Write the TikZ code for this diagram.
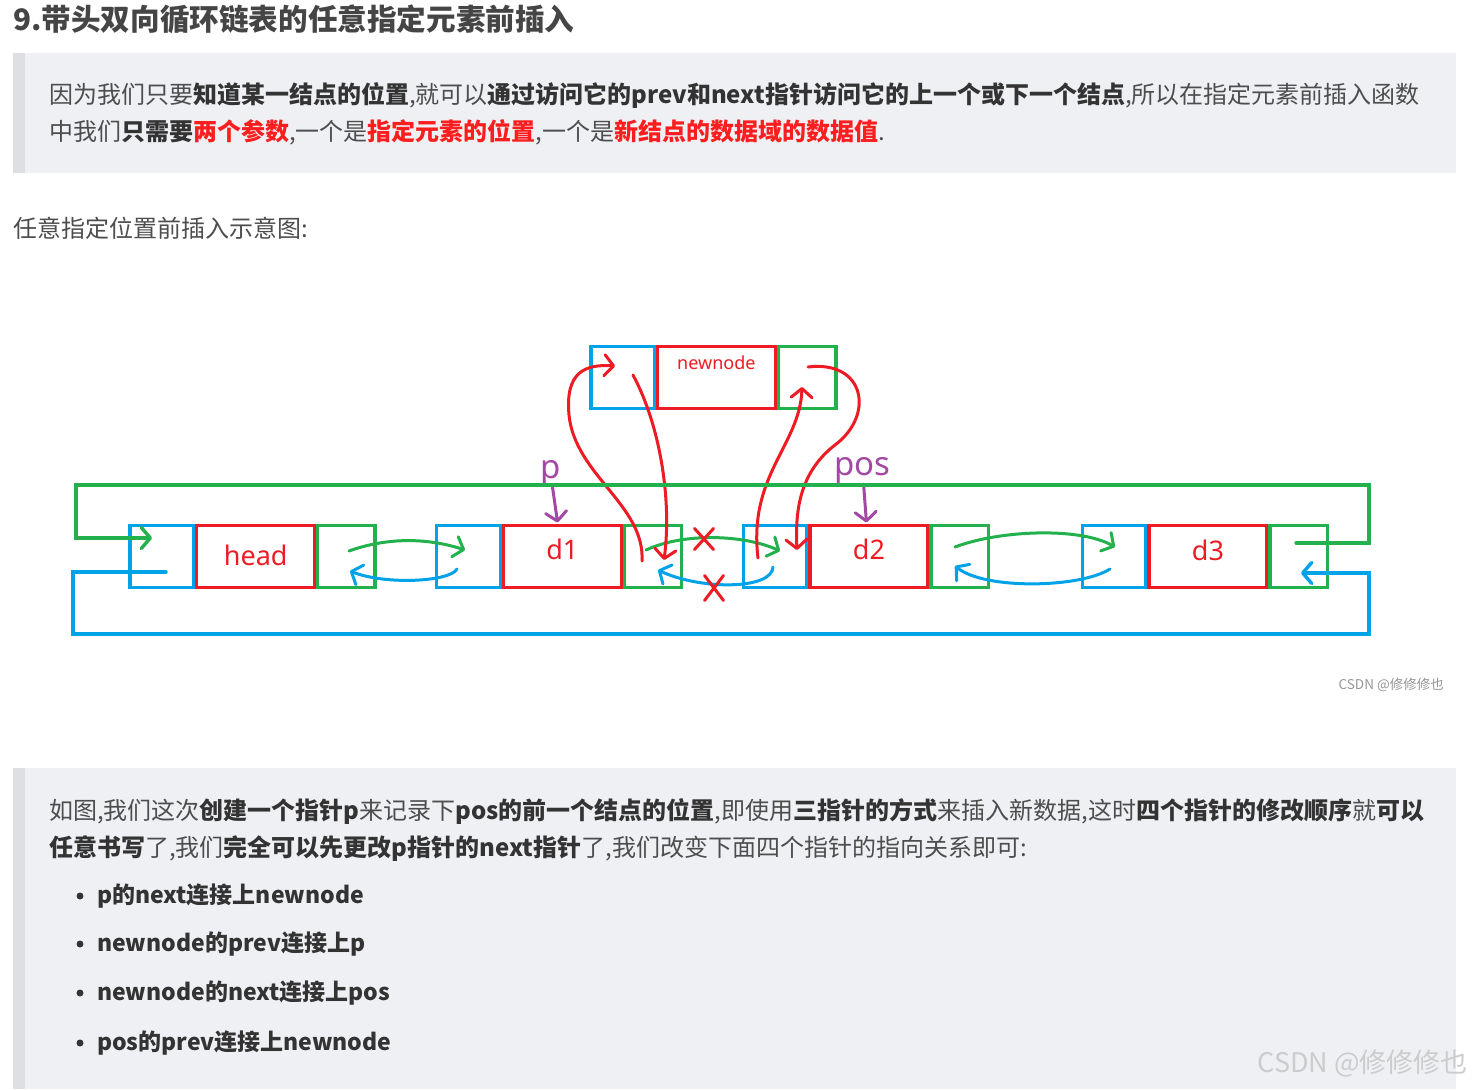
\documentclass[tikz,border=0pt]{standalone}
\usepackage{fontspec}
\setmainfont{Noto Sans CJK SC}
\newfontfamily\lblfont{Noto Sans}
\usetikzlibrary{arrows.meta,shapes.misc}

\definecolor{pblue}{RGB}{0,162,232}
\definecolor{pred}{RGB}{237,28,36}
\definecolor{pgreen}{RGB}{34,177,76}
\definecolor{ppurple}{RGB}{163,73,164}
\definecolor{txtgray}{RGB}{77,77,77}
\definecolor{txtdark}{RGB}{51,51,51}
\definecolor{hired}{RGB}{252,30,30}
\definecolor{quotebg}{RGB}{238,240,244}
\definecolor{quotebar}{RGB}{221,223,228}
\definecolor{wmgray}{RGB}{150,150,150}

\newcommand{\bodyfnt}{\fontsize{24}{28}\selectfont}
\newcommand{\kw}[1]{{\bfseries\color{txtdark}#1}}
\newcommand{\kwr}[1]{{\bfseries\color{hired}#1}}

\begin{document}
\begin{tikzpicture}[x=1pt,y=-1pt,
  box/.style={draw, line width=3.2pt, minimum height=62pt, inner sep=0pt, outer sep=0pt},
  prevbox/.style={box, draw=pblue, minimum width=63.5pt},
  databox/.style={box, draw=pred, minimum width=118pt, text=pred, text depth=0pt, font=\lblfont\fontsize{27}{30}\selectfont},
  nextbox/.style={box, draw=pgreen, minimum width=57.3pt},
  pen/.style={line width=3pt, line cap=round, line join=round, -{Straight Barb[length=9pt,width=21pt,round]}},
  gpen/.style={pen, draw=pgreen},
  bpen/.style={pen, draw=pblue},
  rpen/.style={pen, draw=pred},
  xmark/.style={cross out, draw=pred, line width=3pt, line cap=round, inner sep=0pt},
  ptr/.style={anchor=base, inner sep=1pt, text=ppurple, font=\lblfont\fontsize{33}{36}\selectfont},
  txt/.style={anchor=base west, inner sep=0pt, text=txtgray, font=\bodyfnt},
  dot/.style={circle, fill=txtdark, minimum size=7pt, inner sep=0pt}]
\useasboundingbox (0,0) rectangle (1474,1089);
\fill[white] (0,0) rectangle (1474,1089);

% page text
\node[txt, text=txtgray!90!black, font=\bfseries\fontsize{29.6}{33}\selectfont] (title) at (13,31) {9.带头双向循环链表的任意指定元素前插入};
\fill[quotebg] (13,53) rectangle (1456,173);
\fill[quotebar] (13,53) rectangle (25,173);
\node[txt] (q1a) at (49,103) {因为我们只要\kw{知道某一结点的位置},就可以\kw{通过访问它的prev和next指针访问它的上一个或下一个结点},所以在指定元素前插入函数};
\node[txt] (q1b) at (49,140) {中我们\kw{只需要}\kwr{两个参数},一个是\kwr{指定元素的位置},一个是\kwr{新结点的数据域的数据值}.};
\node[txt] (cap) at (13,237) {任意指定位置前插入示意图:};

% list nodes
\foreach \nm/\x/\lbl/\tht in {head/130/head/17, d1/436.7/d1/5, d2/743.3/d2/5, d3/1082.3/d3/7}{
  \node[prevbox] (\nm-p) at (\x+31.75,556.5) {};
  \node[databox, text height=\tht pt] (\nm-d) at (\x+125.7,556.5) {\lbl};
  \node[nextbox] (\nm-n) at (\x+216.35,556.5) {};
}
\node[prevbox] (new-p) at (622.75,377.8) {};
\node[databox, text height=0pt, text depth=17.6pt, font=\lblfont\fontsize{18}{20}\selectfont] (new-d) at (716.35,377.8) {newnode};
\node[nextbox] (new-n) at (807.35,377.8) {};

% pointers p and pos
\node[ptr] (p) at (550.5,478) {p};
\node[ptr] (pos) at (862.5,475) {pos};
\draw[pen, draw=ppurple, shorten >=3pt] (p) -- (d1-d);
\draw[pen, draw=ppurple, shorten >=3pt] (pos) -- (d2-d);

% ends of the links
\coordinate (head-out) at (349,551);
\coordinate (d1-in) at (465,550);
\coordinate (d1-back) at (457,569);
\coordinate (head-in) at (350,571);
\coordinate (d1-out) at (646,550);
\coordinate (d2-in) at (780,551);
\coordinate (d2-back) at (773,567);
\coordinate (d1-nin) at (658,570);
\coordinate (d2-out) at (955,547);
\coordinate (d3-in) at (1115,547);
\coordinate (d3-back) at (1110,569);
\coordinate (d2-nin) at (955,566);

\draw[gpen] (head-out) .. controls (385,538) and (425,537) .. (d1-in);
\draw[bpen] (d1-back) .. controls (450,582) and (385,585) .. (head-in);
\draw[gpen] (d1-out) .. controls (685,532) and (745,535) .. (d2-in);
\draw[bpen] (d2-back) .. controls (772,590) and (700,590) .. (d1-nin);
\draw[gpen] (d2-out) .. controls (1000,530) and (1080,527) .. (d3-in);
\draw[bpen] (d3-back) .. controls (1080,588) and (985,590) .. (d2-nin);
\node[xmark, minimum width=16pt, minimum height=18pt] (cut1) at (704,539) {};
\node[xmark, minimum width=16pt, minimum height=22pt] (cut2) at (714,588) {};

% new links
\coordinate (p-nx) at (642,561);
\coordinate (new-pin) at (615,366);
\coordinate (new-pout) at (633,375);
\coordinate (p-nin) at (664,560);
\coordinate (pos-px) at (758,558);
\coordinate (new-nin) at (802,387);
\coordinate (new-nout) at (808,367);
\coordinate (pos-pin) at (797,550);
\draw[rpen] (p-nx) .. controls (645,505) and (575,475) .. (569,415) .. controls (565,372) and (585,364) .. (new-pin);
\draw[rpen] (new-pout) .. controls (660,425) and (672,500) .. (p-nin);
\draw[rpen] (pos-px) .. controls (748,475) and (800,445) .. (new-nin);
\draw[rpen] (new-nout) .. controls (865,360) and (875,415) .. (835,445) .. controls (800,472) and (795,510) .. (pos-pin);

% circular links
\coordinate (d3-last) at (1296,543);
\coordinate (head-first) at (152,538);
\coordinate (head-prev) at (166,572);
\coordinate (d3-nin) at (1301,573);
\draw[gpen, line width=3.4pt, line join=miter] (d3-last) -| (1369,485) -| (76,538) -- (head-first);
\draw[bpen, line width=3.4pt, line join=miter] (head-prev) -| (73,634) -| (1369,573) -- (d3-nin);

\node[anchor=base east, inner sep=0pt, text=wmgray, font=\fontsize{13.5}{15}\selectfont] (wm1) at (1444,689) {CSDN @修修修也};

% second quote
\fill[quotebg] (13,768) rectangle (1456,1089);
\fill[quotebar] (13,768) rectangle (25,1089);
\node[txt] (q2a) at (49,819) {如图,我们这次\kw{创建一个指针p}来记录下\kw{pos的前一个结点的位置},即使用\kw{三指针的方式}来插入新数据,这时\kw{四个指针的修改顺序}就\kw{可以}};
\node[txt] (q2b) at (49,856) {\kw{任意书写}了,我们\kw{完全可以先更改p指针的next指针}了,我们改变下面四个指针的指向关系即可:};
\foreach \yy/\txt [count=\i] in {903/p的next连接上newnode, 951/newnode的prev连接上p, 1000/newnode的next连接上pos, 1050/pos的prev连接上newnode}{
  \node[dot] (dot\i) at (80,\yy-7) {};
  \node[txt, text=txtdark, font=\fontsize{23}{27}\selectfont\bfseries] (item\i) at (97,\yy) {\txt};
}
\node[anchor=base east, inner sep=0pt, text=gray!40, font=\fontsize{27}{30}\selectfont] (wm2) at (1468,1072) {CSDN @修修修也};
\end{tikzpicture}
\end{document}
